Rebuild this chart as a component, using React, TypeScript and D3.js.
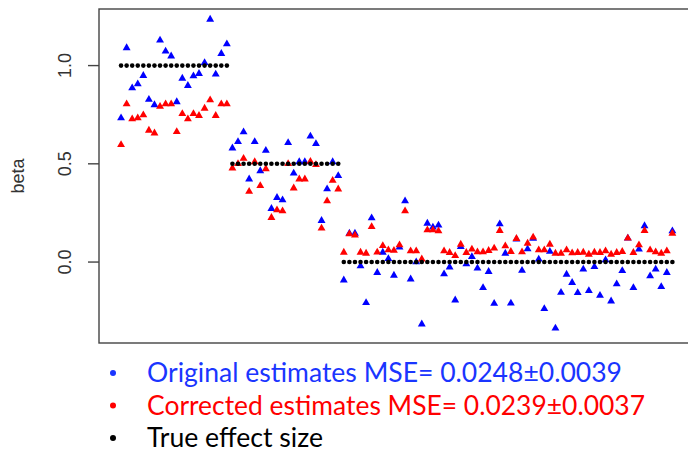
import React from "react";
import * as d3 from "d3";

// Simulated effect sizes for 100 variables: naive vs corrected estimates
const original: number[] = [
  0.733, 1.09, 0.886, 0.906, 0.949, 0.827, 0.8, 1.129, 1.073, 1.048,
  0.815, 0.935, 0.898, 0.947, 0.959, 1.014, 1.235, 0.956, 1.061, 1.11,
  0.58, 0.612, 0.662, 0.422, 0.612, 0.464, 0.568, 0.272, 0.328, 0.316,
  0.607, 0.452, 0.51, 0.51, 0.64, 0.602, 0.211, 0.372, 0.51, 0.439,
  -0.092, 0.146, 0.146, -0.02, -0.207, 0.224, -0.054, 0.049, 0.017, -0.068,
  0.075, 0.311, -0.087, 0.0, -0.316, 0.197, 0.177, 0.187, -0.061, -0.026,
  -0.194, 0.078, -0.01, 0.027, -0.032, -0.131, -0.049, -0.211, 0.194, 0.044,
  -0.21, 0.116, -0.043, 0.066, 0.12, 0.014, -0.238, 0.054, -0.337, -0.155,
  -0.063, -0.105, -0.156, -0.037, -0.146, -0.024, -0.17, 0.01, -0.199, -0.112,
  -0.044, 0.121, -0.131, 0.065, 0.184, -0.071, -0.037, -0.126, -0.054, 0.158,
];

const corrected: number[] = [
  0.597, 0.804, 0.728, 0.733, 0.748, 0.67, 0.656, 0.792, 0.804, 0.804,
  0.663, 0.755, 0.728, 0.755, 0.745, 0.782, 0.825, 0.745, 0.804, 0.804,
  0.478, 0.5, 0.527, 0.359, 0.51, 0.388, 0.474, 0.226, 0.265, 0.26,
  0.5, 0.376, 0.422, 0.422, 0.512, 0.495, 0.172, 0.311, 0.415, 0.371,
  0.049, 0.143, 0.136, 0.049, 0.044, 0.18, 0.05, 0.083, 0.061, 0.059,
  0.087, 0.26, 0.056, 0.056, 0.015, 0.163, 0.163, 0.158, 0.056, 0.048,
  0.032, 0.09, 0.048, 0.065, 0.051, 0.051, 0.058, 0.07, 0.16, 0.082,
  0.053, 0.119, 0.051, 0.095, 0.126, 0.061, 0.061, 0.09, 0.044, 0.044,
  0.061, 0.046, 0.048, 0.049, 0.039, 0.049, 0.048, 0.056, 0.039, 0.048,
  0.053, 0.121, 0.048, 0.087, 0.16, 0.061, 0.051, 0.044, 0.056, 0.146,
];

const truth: number[] = [
  1, 1, 1, 1, 1, 1, 1, 1, 1, 1, 1, 1, 1, 1, 1, 1, 1, 1, 1, 1,
  0.5, 0.5, 0.5, 0.5, 0.5, 0.5, 0.5, 0.5, 0.5, 0.5,
  0.5, 0.5, 0.5, 0.5, 0.5, 0.5, 0.5, 0.5, 0.5, 0.5,
  0, 0, 0, 0, 0, 0, 0, 0, 0, 0, 0, 0, 0, 0, 0, 0, 0, 0, 0, 0,
  0, 0, 0, 0, 0, 0, 0, 0, 0, 0, 0, 0, 0, 0, 0, 0, 0, 0, 0, 0,
  0, 0, 0, 0, 0, 0, 0, 0, 0, 0, 0, 0, 0, 0, 0, 0, 0, 0, 0, 0,
];

const yTicks: number[] = [0, 0.5, 1];
const yLabel = "beta";

const legendLabels: string[] = [
  "Original estimates MSE= 0.0248\u00B10.0039",
  "Corrected estimates MSE= 0.0239\u00B10.0037",
  "True effect size",
];
const legendColors: string[] = ["#1a35ff", "#ff0000", "#000000"];
const legendWidths: number[] = [475, 498, 176];

const W = 688;
const H = 456;
const plot = { left: 99, top: 9, bottom: 343 };

export default function App() {
  const n = original.length;
  const pad = (n - 1) * 0.04;
  const x = d3
    .scaleLinear()
    .domain([1 - pad, n + pad])
    .range([plot.left, plot.left + (n - 1 + 2 * pad) * 5.569]);
  const y = d3.scaleLinear().domain([-0.412, 1.288]).range([plot.bottom, plot.top]);
  const tri = d3.symbol(d3.symbolTriangle, 27)() as string;
  const idx = d3.range(n);
  const axisFont = "'Liberation Sans', Arial, sans-serif";
  const legendFont = "Lato, 'Open Sans', sans-serif";

  return (
    <svg
      width={W}
      height={H}
      style={{ position: "fixed", left: 0, top: 0, background: "#fff" }}
    >
      <rect x={0} y={0} width={W} height={H} fill="#fff" />
      {/* plot frame */}
      <rect
        x={plot.left}
        y={plot.top}
        width={x.range()[1] - plot.left}
        height={plot.bottom - plot.top}
        fill="none"
        stroke="#444"
        strokeWidth={1.4}
      />
      {/* y axis ticks and labels */}
      {yTicks.map((t) => (
        <g key={t} transform={`translate(${plot.left},${y(t)})`}>
          <line x1={0} x2={-11} y1={0} y2={0} stroke="#444" strokeWidth={1.4} />
          <text
            transform="translate(-34,0) rotate(-90)"
            textAnchor="middle"
            dy="0.36em"
            fontFamily={axisFont}
            fontSize={18}
            fill="#333"
          >
            {d3.format(".1f")(t)}
          </text>
        </g>
      ))}
      <text
        transform={`translate(18,${(plot.top + plot.bottom) / 2}) rotate(-90)`}
        textAnchor="middle"
        dy="0.36em"
        fontFamily={axisFont}
        fontSize={18}
        fill="#333"
      >
        {yLabel}
      </text>
      {/* points */}
      <g fill="#0000ff">
        {idx.map((i) => (
          <path key={i} d={tri} transform={`translate(${x(i + 1)},${y(original[i])})`} />
        ))}
      </g>
      <g fill="#ff0000">
        {idx.map((i) => (
          <path key={i} d={tri} transform={`translate(${x(i + 1)},${y(corrected[i])})`} />
        ))}
      </g>
      <g fill="#000">
        {idx.map((i) => (
          <circle key={i} cx={x(i + 1)} cy={y(truth[i])} r={2.3} />
        ))}
      </g>
      {/* legend */}
      {legendLabels.map((label, k) => {
        const cy = 373 + k * 32.5;
        return (
          <g key={label}>
            <circle cx={113} cy={cy} r={3} fill={legendColors[k]} />
            <text
              x={147}
              y={cy}
              dy="0.35em"
              fontFamily={legendFont}
              fontSize={26}
              fill={legendColors[k]}
              textLength={legendWidths[k]}
              lengthAdjust="spacingAndGlyphs"
            >
              {label}
            </text>
          </g>
        );
      })}
    </svg>
  );
}
